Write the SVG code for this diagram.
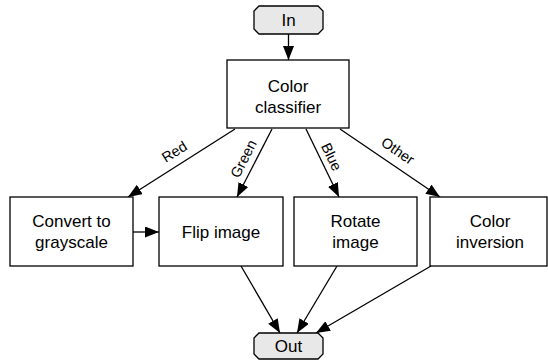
<svg xmlns="http://www.w3.org/2000/svg" width="548" height="360" viewBox="0 0 548 360">
<defs>
<style>
.box{fill:#fff;stroke:#000;stroke-width:1.3}
.term{fill:#e8e8e8;stroke:#000;stroke-width:1.3}
.t{font-family:"Liberation Sans",Arial,sans-serif;font-size:17px;text-anchor:middle;fill:#000}
.lbl{font-family:"Liberation Sans",Arial,sans-serif;font-size:14.5px;text-anchor:middle;fill:#000}
.e{stroke:#000;stroke-width:1.3;fill:none;marker-end:url(#ah)}
</style>
<marker id="ah" markerUnits="userSpaceOnUse" markerWidth="16" markerHeight="12" refX="14" refY="5.5" orient="auto">
<path d="M0,0 L14,5.5 L0,11 Z" fill="#000"/>
</marker>
</defs>
<g id="connectors">
<line class="e" x1="288.5" y1="34" x2="288.5" y2="60"/>
<line class="e" x1="235" y1="129" x2="128" y2="197"/>
<line class="e" x1="272" y1="129" x2="237" y2="197"/>
<line class="e" x1="306" y1="129" x2="339" y2="197"/>
<line class="e" x1="340" y1="129" x2="440" y2="197"/>
<line class="e" x1="133" y1="232" x2="159" y2="232"/>
<line class="e" x1="241" y1="266" x2="280" y2="333"/>
<line class="e" x1="337" y1="266" x2="297" y2="333"/>
<line class="e" x1="431" y1="266" x2="316" y2="333"/>
<text class="lbl" transform="translate(177,156) rotate(-32)">Red</text>
<text class="lbl" transform="translate(248,161) rotate(-63)">Green</text>
<text class="lbl" transform="translate(327,159) rotate(64)">Blue</text>
<text class="lbl" transform="translate(395,155) rotate(34)">Other</text>
</g>
<g id="in">
<path class="term" d="M259,6 H318 L323,11 V29 L318,34 H259 L254,29 V11 Z"/>
<text class="t" x="288.5" y="26">In</text>
</g>
<g id="classifier">
<rect class="box" x="227" y="60" width="122" height="68"/>
<text class="t" x="288" y="92">Color</text>
<text class="t" x="288" y="113">classifier</text>
</g>
<g id="grayscale">
<rect class="box" x="10" y="197" width="123" height="69"/>
<text class="t" x="71.5" y="227">Convert to</text>
<text class="t" x="71.5" y="248">grayscale</text>
</g>
<g id="flip">
<rect class="box" x="159" y="197" width="124" height="69"/>
<text class="t" x="221" y="238">Flip image</text>
</g>
<g id="rotate">
<rect class="box" x="294" y="197" width="123" height="69"/>
<text class="t" x="355.5" y="227">Rotate</text>
<text class="t" x="355.5" y="248">image</text>
</g>
<g id="inversion">
<rect class="box" x="430" y="197" width="117" height="69"/>
<text class="t" x="490" y="227">Color</text>
<text class="t" x="490" y="248">inversion</text>
</g>
<g id="out">
<path class="term" d="M259,333 H318 L323,338 V354 L318,359 H259 L254,354 V338 Z"/>
<text class="t" x="288.5" y="352">Out</text>
</g>
</svg>
